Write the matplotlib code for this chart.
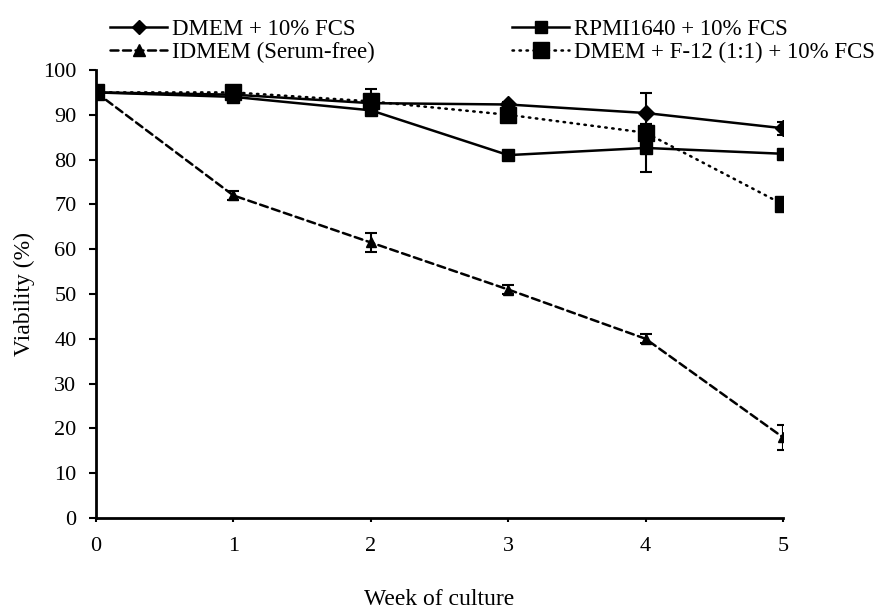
import matplotlib
matplotlib.use("Agg")
import matplotlib.pyplot as plt
from matplotlib.lines import Line2D

weeks = [0, 1, 2, 3, 4, 5]

dmem_fcs = [95, 94.5, 92.6, 92.3, 90.4, 87.0]
dmem_fcs_err = [0.5, 0.5, 1.0, 0.5, 4.5, 1.5]

rpmi_fcs = [95, 94.0, 91.0, 81.0, 82.6, 81.3]
rpmi_fcs_err = [0.5, 1.2, 1.0, 0.5, 5.3, 0.5]

idmem_sf = [95, 72.0, 61.5, 51.0, 40.0, 18.0]
idmem_sf_err = [0.5, 1.0, 2.2, 1.0, 1.0, 2.8]

dmem_f12 = [95, 95.0, 93.0, 90.0, 86.0, 70.0]
dmem_f12_err = [0.5, 0.5, 2.8, 1.0, 2.0, 0.5]

labels = ["DMEM + 10% FCS", "RPMI1640 + 10% FCS",
          "IDMEM (Serum-free)", "DMEM + F-12 (1:1) + 10% FCS"]

plt.rcParams['font.family'] = ['Liberation Serif', 'DejaVu Serif']

W, H = 892, 609
fig = plt.figure(figsize=(W / 100, H / 100), dpi=100)
ax = fig.add_axes([96 / W, 1 - 518 / H, (783 - 96) / W, (518 - 70) / H])

ekw = dict(color='black', ecolor='black', elinewidth=1.5, capsize=4, capthick=1.5, lw=1.8)
styles = [
    dict(marker='D', ms=8, ls='-'),
    dict(marker='s', ms=9, ls='-'),
    dict(marker='^', ms=7.5, ls=(0, (3.2, 1.8))),
    dict(marker='s', ms=11.5, ls=(0, (0.6, 2.2))),
]
legend_ms = [7, 9, 8, 11]
series = [(dmem_fcs, dmem_fcs_err), (rpmi_fcs, rpmi_fcs_err),
          (idmem_sf, idmem_sf_err), (dmem_f12, dmem_f12_err)]
handles = []
for (vals, err), st, lms in zip(series, styles, legend_ms):
    h = ax.errorbar(weeks, vals, yerr=err, **st, **ekw)
    h.lines[0].set_dash_capstyle('round')
    lh = Line2D([], [], color='black', lw=1.8, ls=st['ls'], marker=st['marker'],
                ms=lms, dash_capstyle='round')
    handles.append(lh)

ax.set_xlim(0, 5)
ax.set_ylim(0, 100)
ax.set_xticks(weeks)
ax.set_yticks(range(0, 101, 10))
for s in ['top', 'right']:
    ax.spines[s].set_visible(False)
for s in ['left', 'bottom']:
    ax.spines[s].set_linewidth(2)
ax.tick_params(axis='x', direction='out', width=1.5, length=3, pad=11, labelsize=16)
ax.tick_params(axis='y', direction='out', width=1.5, length=5, pad=9, labelsize=16)
ax.set_ylabel("Viability (%)", fontsize=17)
ax.set_xlabel("Week of culture", fontsize=17)
ax.yaxis.set_label_coords(-(96 - 35) / (783 - 96), 0.5)
ax.xaxis.set_label_coords(0.5, -(589 - 518) / (518 - 70))
for lab in ax.get_xticklabels() + ax.get_yticklabels():
    lab.set_clip_on(False)

lkw = dict(frameon=False, fontsize=16.5, handlelength=2.5, handletextpad=0.22,
           labelspacing=0.08, borderpad=0, borderaxespad=0, loc='center left')
leg1 = fig.legend([handles[0], handles[2]], [labels[0], labels[2]],
                  bbox_to_anchor=(110 / W, 1 - 41 / H), **lkw)
leg2 = fig.legend([handles[1], handles[3]], [labels[1], labels[3]],
                  bbox_to_anchor=(512 / W, 1 - 41 / H), **lkw)

fig.savefig("out.png", dpi=100)
